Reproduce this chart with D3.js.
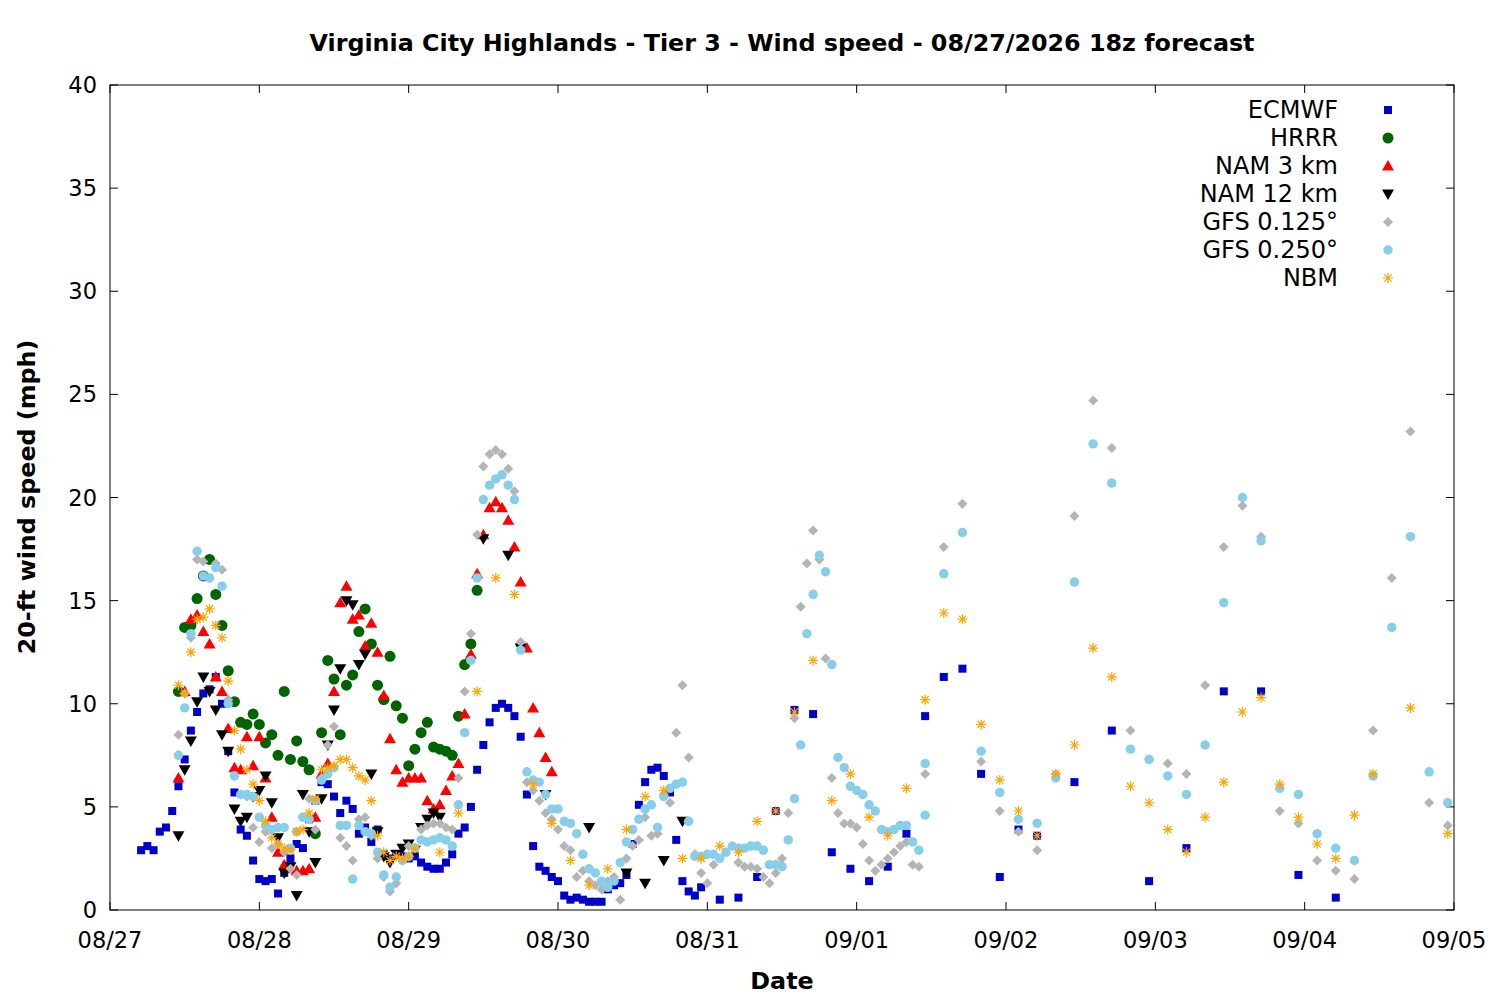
<!DOCTYPE html>
<html><head><meta charset="utf-8">
<script src="https://cdn.jsdelivr.net/npm/d3@7"></script>
<style>body{margin:0;background:#fff}text{font-family:"DejaVu Sans",sans-serif}</style>
</head><body>
<svg id="c" width="1500" height="1000"></svg>
<script>
// hours are counted from 08/27 00z
const ecmwf = [
  {start: 5, step: 1, values: [2.9,3.1,2.9,3.8,4.0,4.8,6.0,7.3,8.7,9.6,10.5,10.7,11.3,10.0,7.7,5.7,3.9,3.6,2.4,1.5,1.4,1.5,0.8,1.8,2.5,3.2,3.0,4.4,5.3,6.2,6.1,5.5,4.7,5.3,4.9,3.7,4.0,3.3,3.9,2.7,2.5,2.7,2.6,2.5,2.6,2.3,2.1,2.0,2.0,2.3,2.7,3.7,4.0,5.0,6.8,8.0,9.1,9.8,10.0,9.8,9.4,8.4,5.6,3.1,2.1,1.9,1.6,1.4,0.7,0.5,0.6,0.5,0.4,0.4,0.4,1.0,1.2,1.3,1.7,3.2,5.1,6.2,6.8,6.9,6.5,5.7,3.4,1.4,0.9,0.7,1.1]},
  {start: 98, step: 3, values: [0.5,0.6,1.6,4.8,9.7,9.5,2.8,2.0,1.4,2.1,3.7,9.4,11.3,11.7,6.6,1.6,3.9,3.6]},
  {start: 155, step: 6, values: [6.2,8.7,1.4,3.0,10.6,10.6,1.7,0.6]}
];
const hrrr = [
  {start: 11, step: 1, values: [10.6,13.7,13.8,15.1,16.2,17.0,15.3,13.8,11.6,10.1,9.1,9.0,9.5,9.0,8.1,8.5,7.5,10.6,7.3,8.2,7.2,6.8,3.7,8.6,12.1,11.2,8.5,10.9,11.4,13.5,14.6,12.9,10.9,10.2,12.3,9.9,9.3,7.0,7.8,8.6,9.1,7.9,7.8,7.7,7.5,9.4,11.9,12.9,15.5]}
];
const nam3 = [
  {start: 11, step: 1, values: [6.4,10.6,14.1,14.3,13.5,12.9,11.3,10.6,8.8,6.9,6.8,8.4,7.0,8.4,6.4,4.5,2.8,2.2,2.0,1.9,1.9,2.0,4.5,6.6,7.1,10.6,14.9,15.7,14.1,14.3,12.8,13.9,12.5,10.4,8.3,6.8,6.2,6.4,6.4,6.4,5.3,4.9,5.1,5.8,6.5,7.1,9.5,12.4,16.3,18.2,19.5,19.8,19.5,18.9,17.6,15.9,12.7,9.8,8.6,7.4,6.7]}
];
const nam12 = [
  {start: 11, step: 1, values: [3.6,6.8,8.2,10.1,11.3,10.6,9.7,8.5,7.7,4.9,4.3,4.5,5.5,5.8,6.5,5.2,3.5,1.8,2.1,0.7,5.6,3.8,2.3,5.4,8.0,9.7,11.7,15.0,14.8,11.9,12.4,6.6,3.8,2.6,2.3,2.7,3.0,3.2,2.9,4.0,4.4,4.7,4.5]},
  {hours: [60,64,66,70,77,83,86,89,92], values: [18.0,17.2,12.7,5.6,4.0,1.8,1.3,2.4,4.3]}
];
const gfs125 = [
  {start: 11, step: 1, values: [8.5,10.5,13.2,17.0,16.9,16.1,16.8,16.5,10.2,6.5,5.6,5.5,4.0,3.3,3.8,3.0,3.2,2.8,2.0,1.7,4.5,5.4,3.9,6.4,8.0,8.9,3.5,3.1,2.4,4.4,4.5,3.6,2.5,1.6,0.9,1.3,2.4,3.1,3.0,3.9,4.1,4.2,4.2,4.0,3.9,6.4,10.6,13.4,18.2,21.5,22.1,22.3,22.1,21.4,20.3,13.0,6.2,5.8,5.3,4.7,4.4,3.9,3.1,2.9,1.6,1.9,1.4,1.2,1.0,1.4,1.6,0.5,2.5,3.1,3.4,4.5,3.6,3.7,5.6,5.2,8.6,10.9,7.4,2.7,1.8,1.3,2.2]},
  {start: 101, step: 1, values: [2.3,2.1,2.1,2.0,1.6,1.3,1.8,2.5,4.7,9.3,14.7,16.8,18.4,17.0,12.2,6.4,4.7,4.2,4.2,4.0,3.2,2.4,1.9,2.2,2.5,2.8,3.1,3.3,2.2,2.1]},
  {start: 131, step: 3, values: [6.6,17.6,19.7,7.2,4.8,3.8,2.9,6.6,19.1,24.7,22.4,8.7,7.3,7.1,6.6,10.9,17.6,19.6,18.1,4.8,4.2,2.4,1.9,1.5,8.7,16.1,23.2,5.2,4.1]}
];
const gfs250 = [
  {start: 11, step: 1, values: [7.5,9.8,13.4,17.4,16.2,16.1,16.6,15.7,10.0,6.5,5.6,5.6,5.5,4.5,4.1,3.9,4.0,4.0,3.0,3.8,4.5,4.4,5.3,6.3,6.6,6.9,4.1,4.1,1.5,4.1,3.8,3.7,2.8,1.7,1.1,1.6,2.4,2.6,3.0,3.4,3.3,3.4,3.5,3.4,3.1,5.1,8.6,12.1,16.1,19.9,20.6,20.9,21.1,20.6,19.9,12.6,6.7,6.3,6.2,5.6,4.9,4.9,4.3,4.2,3.7,2.7,2.0,1.8,1.4,1.1,1.4,2.3,3.3,3.9,4.4,4.9,5.1,4.0,5.5,5.9,6.1,6.2,4.3,2.6,2.6,2.7,2.7,2.5,2.8,3.1,3.0,3.0,3.1,3.1,2.9,2.2,2.2,2.1,3.4,5.4,8.0,13.4,15.3,17.2,16.4,11.9,7.4,6.9,6.0,5.8,5.6,5.1,4.8,3.9,3.8,3.9,4.1,4.1,3.3,2.9,4.6]},
  {start: 131, step: 3, values: [7.1,16.3,18.3,7.7,5.7,4.4,4.2,6.4,15.9,22.6,20.7,7.8,7.3,6.5,5.6,8.0,14.9,20.0,17.9,5.9,5.6,3.7,3.0,2.4,6.5,13.7,18.1,6.7,5.2]}
];
const nbm = [
  {start: 11, step: 1, values: [10.9,10.5,12.5,14.1,14.2,14.6,13.8,13.2,11.1,8.7,7.8,6.8,6.1,5.3,4.3,3.5,3.2,3.0,2.9,3.8,3.9,4.7,5.4,6.8,6.9,7.0,7.3,7.3,6.9,6.5,6.3,5.3,3.6,2.8,2.4,2.6,2.5,2.6,3.0]},
  {start: 53, step: 3, values: [2.8,4.7,10.6,16.1,15.3,6.1,4.2,2.4,1.2,2.0,3.9,5.5,5.8,2.5,2.5,3.1,2.8,4.3,4.8,9.6,12.1,5.3,6.6,4.5,3.6,5.9,10.2,14.4,14.1,9.0,6.3,4.8,3.6,6.6,8.0,12.7,11.3,6.0,5.2,3.9,2.8,4.5,6.2,9.6,10.3,6.1,4.5,3.2,2.5,4.6,6.6,null,9.8,null,3.7]}
];
const seriesNames = ["ECMWF","HRRR","NAM 3 km","NAM 12 km","GFS 0.125°","GFS 0.250°","NBM"];
const seriesData = [ecmwf,hrrr,nam3,nam12,gfs125,gfs250,nbm];
const seriesColors = ["#0000cc","#006400","#ff0000","#000000","#b4b4b4","#87ceeb","#ffa500"];
const yTicks = [0,5,10,15,20,25,30,35,40];

const t0 = Date.UTC(2026,7,27);
const svg = d3.select("#c");
const m = {l:110, r:1454, t:85, b:910};
const x = d3.scaleUtc().domain([new Date(t0), new Date(Date.UTC(2026,8,5))]).range([m.l,m.r]);
const y = d3.scaleLinear().domain([0,40]).range([m.b,m.t]);

function points(segs){
  const out=[];
  segs.forEach(s=>s.values.forEach((v,i)=>{
    if(v==null) return;
    const h = s.hours ? s.hours[i] : s.start + i*s.step;
    out.push([new Date(t0+h*3600e3), v]);
  }));
  return out;
}

function marker(g, k, c){
  if(k===0) g.append("rect").attr("x",-4).attr("y",-4).attr("width",8).attr("height",8).attr("fill",c);
  else if(k===1) g.append("circle").attr("r",5.5).attr("fill",c);
  else if(k===2) g.append("path").attr("d","M0,-6L6,4.5L-6,4.5Z").attr("fill",c);
  else if(k===3) g.append("path").attr("d","M0,6L6,-4.5L-6,-4.5Z").attr("fill",c);
  else if(k===4) g.append("path").attr("d","M0,-5L5,0L0,5L-5,0Z").attr("fill",c);
  else if(k===5) g.append("path").attr("d",d3.symbol(d3.symbolCircle,70)()).attr("fill",c);
  else {
    g.append("path").attr("d","M-5,0H5M0,-5V5M-3.6,-3.6L3.6,3.6M-3.6,3.6L3.6,-3.6")
      .attr("stroke",c).attr("stroke-width",1.2);
  }
}

// frame
svg.append("rect").attr("x",m.l).attr("y",m.t).attr("width",m.r-m.l).attr("height",m.b-m.t)
  .attr("fill","none").attr("stroke","#000").attr("stroke-width",1);

const xt = x.ticks(d3.utcDay.every(1));
xt.forEach(d=>{
  const px=x(d);
  svg.append("path").attr("d",`M${px},${m.b}v-8M${px},${m.t}v8`).attr("stroke","#000");
  svg.append("text").attr("x",px).attr("y",m.b+38).attr("text-anchor","middle")
    .attr("font-size",22.5).text(d3.utcFormat("%m/%d")(d));
});
yTicks.forEach(v=>{
  const py=y(v);
  svg.append("path").attr("d",`M${m.l},${py}h8M${m.r},${py}h-8`).attr("stroke","#000");
  svg.append("text").attr("x",m.l-13).attr("y",py+8).attr("text-anchor","end")
    .attr("font-size",22.5).text(v);
});

seriesData.forEach((segs,k)=>{
  const g=svg.append("g");
  points(segs).forEach(p=>{
    marker(g.append("g").attr("transform",`translate(${x(p[0])},${y(p[1])})`), k, seriesColors[k]);
  });
});

// legend
seriesNames.forEach((n,k)=>{
  const ly=110+k*28;
  svg.append("text").attr("x",1338).attr("y",ly+8).attr("text-anchor","end")
    .attr("font-size",24).text(n);
  marker(svg.append("g").attr("transform",`translate(1388,${ly})`), k, seriesColors[k]);
});

svg.append("text").attr("x",782).attr("y",51).attr("text-anchor","middle")
  .attr("font-size",23.8).attr("font-weight","bold")
  .text("Virginia City Highlands - Tier 3 - Wind speed - 08/27/2026 18z forecast");
svg.append("text").attr("x",782).attr("y",989).attr("text-anchor","middle")
  .attr("font-size",23.8).attr("font-weight","bold").text("Date");
svg.append("text").attr("transform","translate(35,497) rotate(-90)").attr("text-anchor","middle")
  .attr("font-size",23.8).attr("font-weight","bold").text("20-ft wind speed (mph)");
</script>
</body></html>
